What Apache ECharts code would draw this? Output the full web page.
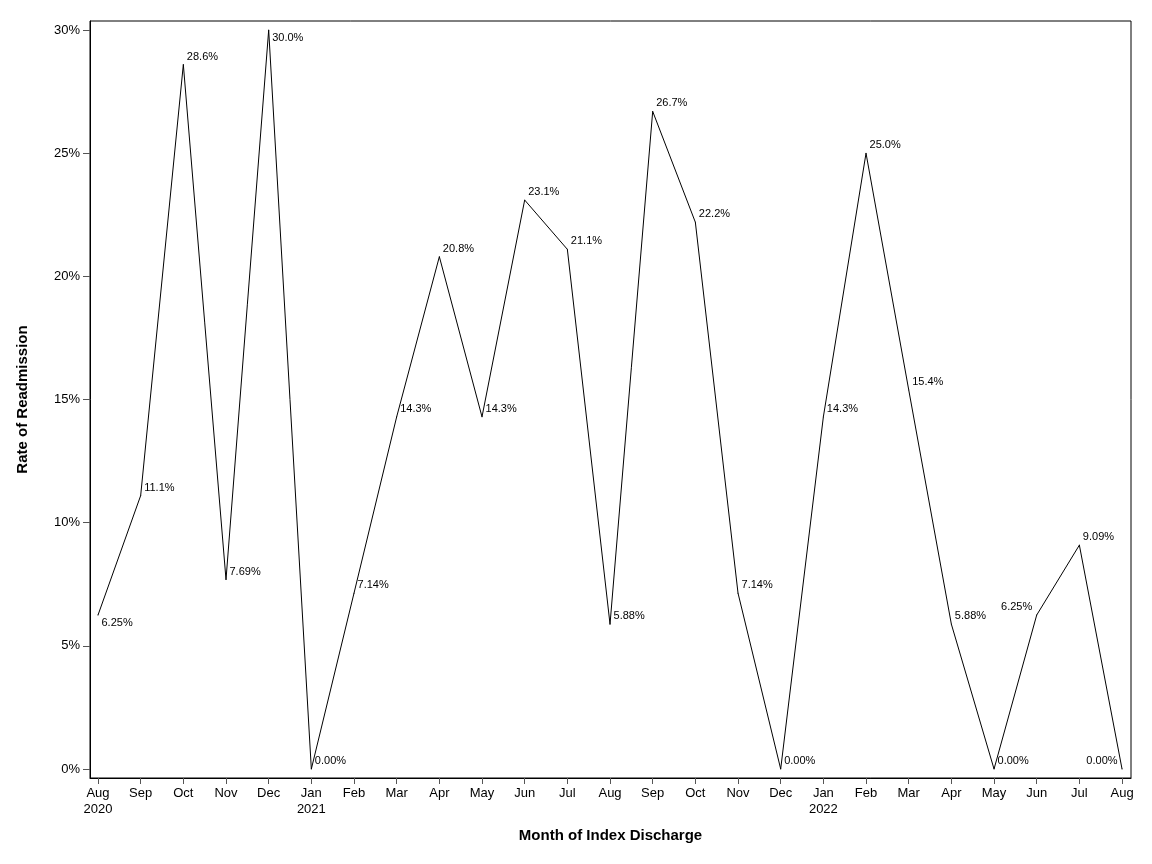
<!DOCTYPE html>
<html lang="en">
<head>
    <meta charset="UTF-8">
    <title>Rate of Readmission</title>
    <script src="https://cdn.jsdelivr.net/npm/echarts@6/dist/echarts.min.js"></script>
    <style>
        html, body { margin: 0; padding: 0; background: #fff; }
        #chart { width: 1152px; height: 864px; }
    </style>
</head>
<body>
<div id="chart"></div>
<script>
    // month labels along the x axis (index 0 = Aug 2020)
    var months = ['Aug\n2020','Sep','Oct','Nov','Dec','Jan\n2021','Feb','Mar','Apr','May','Jun','Jul',
                  'Aug','Sep','Oct','Nov','Dec','Jan\n2022','Feb','Mar','Apr','May','Jun','Jul','Aug'];
    // readmission rate in percent
    var rates = [6.25, 11.1, 28.6, 7.69, 30.0, 0.00, 7.14, 14.3, 20.8, 14.3, 23.1, 21.1,
                 5.88, 26.7, 22.2, 7.14, 0.00, 14.3, 25.0, 15.4, 5.88, 0.00, 6.25, 9.09, 0.00];
    // point label texts
    var labels = ['6.25%','11.1%','28.6%','7.69%','30.0%','0.00%','7.14%','14.3%','20.8%','14.3%','23.1%','21.1%',
                  '5.88%','26.7%','22.2%','7.14%','0.00%','14.3%','25.0%','15.4%','5.88%','0.00%','6.25%','9.09%','0.00%'];
    var yTicks = [0, 5, 10, 15, 20, 25, 30];
    var xTicks = rates.map(function (v, i) { return i; });

    var font = '"Liberation Sans", Arial, sans-serif';
    var below = [0, 4];      // labels placed under the point
    var leftSide = [22, 24]; // labels placed left of the point

    var data = rates.map(function (v, i) {
        var item = { value: [i, v], label: { formatter: labels[i] } };
        if (leftSide.indexOf(i) >= 0) item.label.position = 'left';
        return item;
    });

    var chart = echarts.init(document.getElementById('chart'));
    var option = {
        animation: false,
        backgroundColor: '#fff',
        grid: {
            left: 90, right: 21, top: 21, bottom: 86,
            show: true, borderColor: '#000', borderWidth: 1
        },
        xAxis: {
            type: 'value',
            min: -0.1875,
            max: 24.21,
            name: 'Month of Index Discharge',
            nameLocation: 'middle',
            nameGap: 50,
            nameTextStyle: { fontFamily: font, fontSize: 15, fontWeight: 'bold', color: '#000' },
            axisLine: { show: true, onZero: false, lineStyle: { color: '#000', width: 1 } },
            axisTick: { show: true, inside: false, length: 6, customValues: xTicks, lineStyle: { color: '#555' } },
            axisLabel: {
                customValues: xTicks,
                formatter: function (v) { return months[Math.round(v)]; },
                fontFamily: font, fontSize: 13, color: '#000', lineHeight: 16, margin: 7
            },
            splitLine: { show: false }
        },
        yAxis: {
            type: 'value',
            min: -0.365,
            max: 30.37,
            name: 'Rate of Readmission',
            nameLocation: 'middle',
            nameGap: 60,
            nameRotate: 90,
            nameTextStyle: { fontFamily: font, fontSize: 15, fontWeight: 'bold', color: '#000' },
            axisLine: { show: true, onZero: false, lineStyle: { color: '#000', width: 1 } },
            axisTick: { show: true, inside: false, length: 7, customValues: yTicks, lineStyle: { color: '#555' } },
            axisLabel: {
                customValues: yTicks,
                formatter: function (v) { return v + '%'; },
                fontFamily: font, fontSize: 13, color: '#000', margin: 10
            },
            splitLine: { show: false }
        },
        series: [
            {
                type: 'line',
                data: data,
                symbol: 'circle',
                symbolSize: 1,
                showAllSymbol: true,
                itemStyle: { color: '#000' },
                lineStyle: { color: '#000', width: 1 },
                label: {
                    show: true,
                    position: 'right',
                    distance: 0,
                    fontFamily: font,
                    fontSize: 11,
                    color: '#000'
                },
                // nudge labels off the line: most sit above-right of the point
                labelLayout: function (p) {
                    var i = p.dataIndex;
                    if (below.indexOf(i) >= 0) return { dx: 3, dy: 8 };
                    if (leftSide.indexOf(i) >= 0) return { dx: -4, dy: -8 };
                    return { dx: 3, dy: -8 };
                }
            }
        ]
    };
    chart.setOption(option);
</script>
</body>
</html>
